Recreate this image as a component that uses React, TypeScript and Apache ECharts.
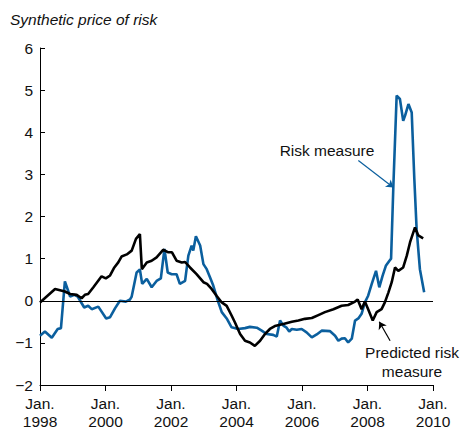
import React, { useEffect, useRef } from "react";
import * as echarts from "echarts";

// Risk measure (blue) — decimal year / value
const riskYears = [
  1998.0, 1998.15, 1998.36, 1998.54, 1998.64, 1998.76, 1998.92, 1999.05, 1999.15, 1999.35,
  1999.47, 1999.58, 1999.78, 2000.02, 2000.14, 2000.29, 2000.44, 2000.62, 2000.75, 2000.8,
  2000.95, 2001.05, 2001.12, 2001.26, 2001.41, 2001.56, 2001.69, 2001.8, 2001.9, 2002.02,
  2002.17, 2002.27, 2002.43, 2002.53, 2002.63, 2002.68, 2002.76, 2002.89, 2002.99, 2003.09,
  2003.19, 2003.29, 2003.43, 2003.55, 2003.7, 2003.85, 2004.05, 2004.26, 2004.41, 2004.62,
  2004.77, 2004.92, 2005.12, 2005.23, 2005.33, 2005.43, 2005.53, 2005.61, 2005.69, 2005.84,
  2005.99, 2006.14, 2006.3, 2006.45, 2006.6, 2006.85, 2007.01, 2007.11, 2007.21, 2007.31,
  2007.41, 2007.52, 2007.62, 2007.72, 2007.82, 2007.92, 2008.02, 2008.13, 2008.26, 2008.36,
  2008.46, 2008.56, 2008.67, 2008.72, 2008.79, 2008.89, 2008.99, 2009.09, 2009.15, 2009.25,
  2009.35, 2009.43, 2009.5, 2009.6, 2009.73,
];
const riskValues = [
  -0.83, -0.73, -0.88, -0.67, -0.65, 0.46, 0.1, 0.14, 0.1, -0.16,
  -0.12, -0.2, -0.14, -0.42, -0.39, -0.18, 0.0, -0.02, 0.03, 0.1,
  0.67, 0.74, 0.4, 0.52, 0.32, 0.47, 0.53, 1.23, 0.67, 0.63,
  0.63, 0.4, 0.47, 1.07, 1.31, 1.19, 1.53, 1.31, 0.87, 0.75,
  0.56, 0.36, 0.0, -0.27, -0.42, -0.63, -0.67, -0.65, -0.62, -0.64,
  -0.71, -0.79, -0.81, -0.85, -0.47, -0.59, -0.64, -0.73, -0.67, -0.69,
  -0.67, -0.75, -0.87, -0.8, -0.71, -0.72, -0.83, -0.95, -0.9, -0.89,
  -0.99, -0.9, -0.47, -0.42, -0.31, -0.04, 0.12, 0.4, 0.71, 0.32,
  0.59, 0.83, 0.95, 1.0, 2.73, 4.87, 4.79, 4.27, 4.4, 4.67,
  4.47, 2.89, 1.7, 0.75, 0.2,
];

// Predicted risk measure (black)
const predYears = [
  1998.0, 1998.46, 1998.76, 1998.92, 1999.12, 1999.27, 1999.37, 1999.47, 1999.63, 1999.88,
  2000.01, 2000.14, 2000.27, 2000.39, 2000.49, 2000.65, 2000.8, 2000.93, 2001.05, 2001.11,
  2001.26, 2001.41, 2001.56, 2001.76, 2001.92, 2002.03, 2002.17, 2002.33, 2002.43, 2002.58,
  2002.78, 2002.99, 2003.1, 2003.24, 2003.39, 2003.55, 2003.7, 2003.85, 2003.95, 2004.11,
  2004.26, 2004.41, 2004.56, 2004.72, 2004.87, 2005.02, 2005.17, 2005.43, 2005.69, 2005.89,
  2006.09, 2006.3, 2006.5, 2006.7, 2006.96, 2007.21, 2007.41, 2007.62, 2007.7, 2007.82,
  2007.92, 2008.02, 2008.16, 2008.28, 2008.43, 2008.53, 2008.64, 2008.74, 2008.84, 2008.94,
  2009.09, 2009.2, 2009.3, 2009.45, 2009.55, 2009.7,
];
const predValues = [
  -0.04, 0.28, 0.22, 0.16, 0.14, 0.06, 0.14, 0.16, 0.32, 0.58,
  0.53, 0.6, 0.79, 0.91, 1.05, 1.1, 1.19, 1.47, 1.58, 0.75,
  0.91, 0.95, 1.03, 1.21, 1.15, 1.15, 0.95, 0.91, 0.92, 0.79,
  0.63, 0.44, 0.4, 0.28, 0.12, -0.04, -0.12, -0.35, -0.51, -0.79,
  -0.95, -0.99, -1.07, -0.95, -0.79, -0.67, -0.6, -0.55, -0.5, -0.47,
  -0.43, -0.41, -0.34, -0.27, -0.2, -0.12, -0.1, -0.02, 0.03, -0.2,
  -0.02, -0.2, -0.47, -0.27, -0.2, -0.04, 0.2, 0.44, 0.79, 0.71,
  0.79, 1.07, 1.39, 1.74, 1.55, 1.48,
];

const xTicks = [1998, 2000, 2002, 2004, 2006, 2008, 2010];
const yTicks = [-2, -1, 0, 1, 2, 3, 4, 5, 6];

const BLUE = "#0b5f9e";
const FONT = "'Liberation Sans', Arial, Helvetica, sans-serif";
const FS = 15.5;

export default function App() {
  const ref = useRef<HTMLDivElement>(null);
  useEffect(() => {
    if (!ref.current) return;
    const chart = echarts.init(ref.current, undefined, { renderer: "svg" });
    const zip = (xs: number[], ys: number[]) => xs.map((x, i) => [x, ys[i]]);
    const xMin = xTicks[0];
    const xMax = xTicks[xTicks.length - 1];
    chart.setOption({
      animation: false,
      grid: { left: 40, right: 36, top: 48, bottom: 48 },
      xAxis: {
        type: "value",
        min: xMin,
        max: xMax,
        interval: 2,
        axisLine: { show: true, onZero: false, lineStyle: { color: "#000", width: 1 } },
        axisTick: { show: true, inside: false, length: 6, lineStyle: { color: "#000" } },
        splitLine: { show: false },
        axisLabel: {
          formatter: (v: number) => `Jan.\n${v}`,
          color: "#111",
          fontSize: FS,
          fontFamily: FONT,
          lineHeight: 18,
          margin: 9,
        },
      },
      yAxis: {
        type: "value",
        min: yTicks[0],
        max: yTicks[yTicks.length - 1],
        interval: 1,
        axisLine: { show: true, onZero: false, lineStyle: { color: "#000", width: 1 } },
        axisTick: { show: true, inside: true, length: 5, lineStyle: { color: "#000" } },
        splitLine: { show: false },
        axisLabel: {
          formatter: (v: number) => (v < 0 ? "\u2212" + Math.abs(v) : String(v)),
          color: "#111",
          fontSize: FS,
          fontFamily: FONT,
          margin: 7,
        },
      },
      series: [
        {
          type: "line",
          name: "Risk measure",
          data: zip(riskYears, riskValues),
          showSymbol: false,
          symbol: "none",
          lineStyle: { color: BLUE, width: 2.6 },
          z: 3,
          markLine: {
            silent: true,
            animation: false,
            label: { show: false },
            lineStyle: { color: BLUE, width: 1.2, type: "solid" },
            symbolSize: 7,
            data: [
              [
                { coord: [2007.72, 3.33], symbol: "none" },
                { coord: [2008.79, 2.69], symbol: "arrow" },
              ],
            ],
          },
        },
        {
          type: "line",
          name: "Predicted risk measure",
          data: zip(predYears, predValues),
          showSymbol: false,
          symbol: "none",
          lineStyle: { color: "#000", width: 2.6 },
          z: 4,
          markLine: {
            silent: true,
            animation: false,
            label: { show: false },
            symbolSize: 7,
            lineStyle: { color: "#000", width: 1.2, type: "solid" },
            data: [
              [
                { coord: [2008.69, -0.95], symbol: "none" },
                { coord: [2008.36, -0.5], symbol: "arrow" },
              ],
              [
                { coord: [xMin, 0], symbol: "none" },
                { coord: [xMax, 0], symbol: "none" },
              ],
            ],
          },
        },
      ],
      graphic: [
        {
          type: "text",
          left: 10,
          top: 11,
          style: {
            text: "Synthetic price of risk",
            font: `italic ${FS}px ${FONT}`,
            fill: "#111",
          },
        },
        {
          type: "text",
          x: 327,
          y: 150,
          style: {
            text: "Risk measure",
            font: `${FS}px ${FONT}`,
            fill: "#111",
            align: "center",
            verticalAlign: "middle",
          },
        },
        {
          type: "text",
          x: 412,
          y: 362,
          style: {
            text: "Predicted risk\nmeasure",
            font: `${FS}px ${FONT}`,
            lineHeight: 19,
            fill: "#111",
            align: "center",
            verticalAlign: "middle",
          },
        },
      ],
    });
    return () => chart.dispose();
  }, []);
  return <div ref={ref} style={{ width: 469, height: 433, position: "absolute", left: 0, top: 0 }} />;
}
